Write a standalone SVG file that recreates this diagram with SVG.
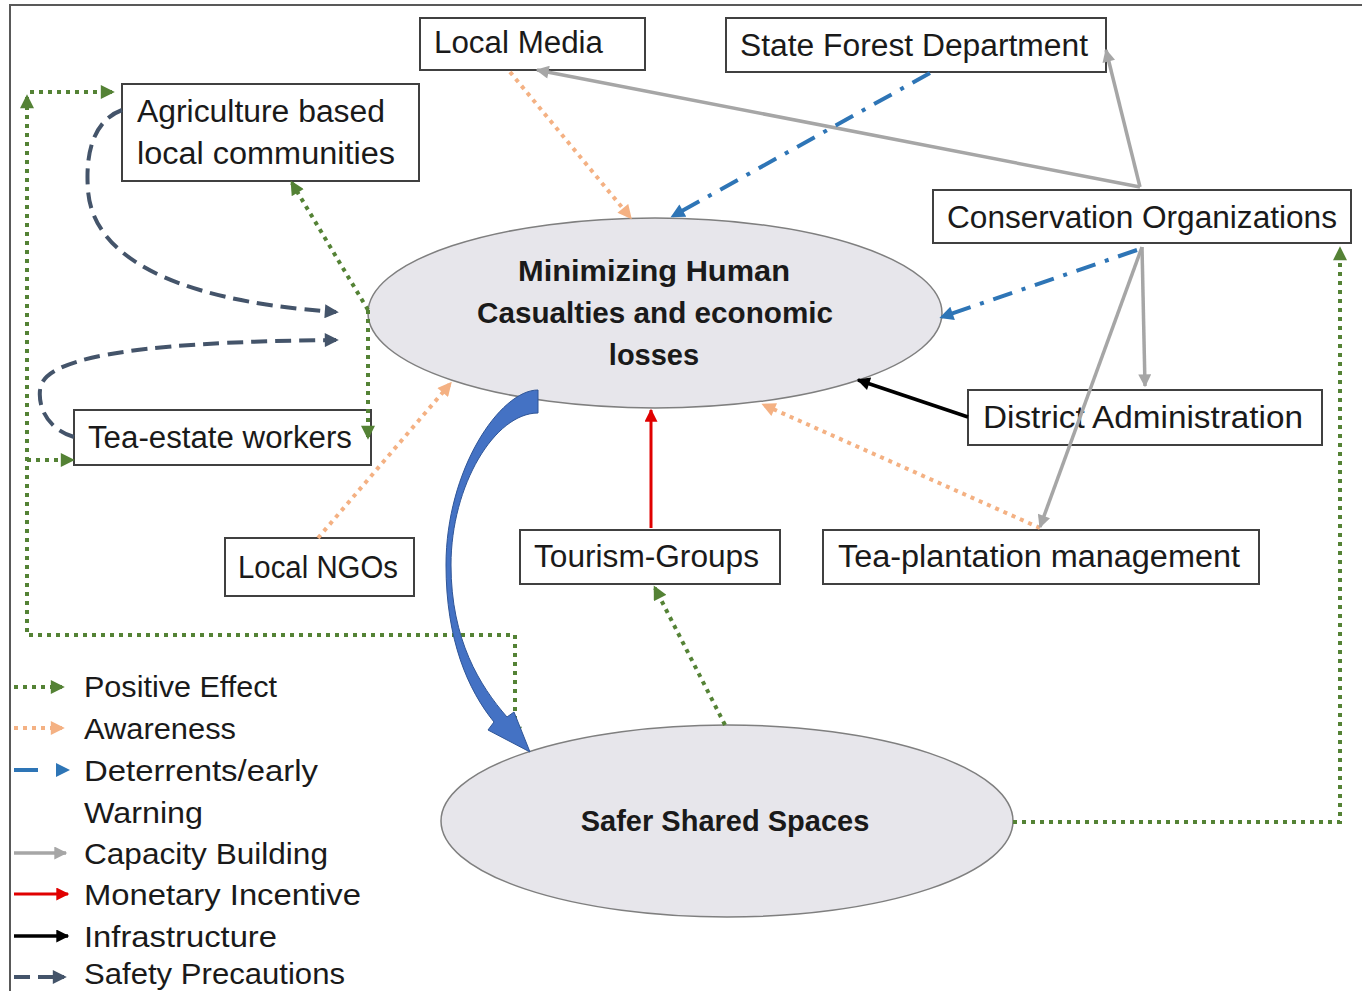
<svg xmlns="http://www.w3.org/2000/svg" width="1362" height="991" viewBox="0 0 1362 991">
<defs>
<style>
.box{fill:#ffffff;stroke:#404040;stroke-width:2}
.ell{fill:#e7e6eb;stroke:#7f7f7f;stroke-width:1.5}
.t{font-family:"Liberation Sans",Arial,sans-serif;font-size:31px;fill:#1a1a1a}
.tb{font-family:"Liberation Sans",Arial,sans-serif;font-size:29px;font-weight:bold;fill:#1a1a1a;text-anchor:middle}
.lg{font-family:"Liberation Sans",Arial,sans-serif;font-size:30px;fill:#1a1a1a}
.pos{fill:none;stroke:#548235;stroke-width:4;stroke-dasharray:4 5}
.awa{fill:none;stroke:#f4b183;stroke-width:4;stroke-dasharray:4 5}
.det{fill:none;stroke:#2e75b6;stroke-width:4;stroke-dasharray:20 10 4 10}
.cap{fill:none;stroke:#a6a6a6;stroke-width:3.5}
.mon{fill:none;stroke:#e00000;stroke-width:3}
.inf{fill:none;stroke:#000000;stroke-width:3.5}
.saf{fill:none;stroke:#44546a;stroke-width:4;stroke-dasharray:16 8}
</style>
<marker id="mG" viewBox="0 0 10 10" refX="8" refY="5" markerWidth="15" markerHeight="14" orient="auto" markerUnits="userSpaceOnUse"><path d="M0,0 L10,5 L0,10 z" fill="#548235"/></marker>
<marker id="mGr" viewBox="0 0 10 10" refX="8" refY="5" markerWidth="15" markerHeight="14" orient="auto-start-reverse" markerUnits="userSpaceOnUse"><path d="M0,0 L10,5 L0,10 z" fill="#548235"/></marker>
<marker id="mO" viewBox="0 0 10 10" refX="8" refY="5" markerWidth="15" markerHeight="14" orient="auto" markerUnits="userSpaceOnUse"><path d="M0,0 L10,5 L0,10 z" fill="#f4b183"/></marker>
<marker id="mB" viewBox="0 0 10 10" refX="8" refY="5" markerWidth="15" markerHeight="14" orient="auto" markerUnits="userSpaceOnUse"><path d="M0,0 L10,5 L0,10 z" fill="#2e75b6"/></marker>
<marker id="mC" viewBox="0 0 10 10" refX="9" refY="5" markerWidth="15" markerHeight="13" orient="auto" markerUnits="userSpaceOnUse"><path d="M0,0 L10,5 L0,10 z" fill="#a6a6a6"/></marker>
<marker id="mR" viewBox="0 0 10 10" refX="9" refY="5" markerWidth="15" markerHeight="13" orient="auto" markerUnits="userSpaceOnUse"><path d="M0,0 L10,5 L0,10 z" fill="#e00000"/></marker>
<marker id="mK" viewBox="0 0 10 10" refX="9" refY="5" markerWidth="15" markerHeight="13" orient="auto" markerUnits="userSpaceOnUse"><path d="M0,0 L10,5 L0,10 z" fill="#000000"/></marker>
<marker id="mS" viewBox="0 0 10 10" refX="8" refY="5" markerWidth="15" markerHeight="14" orient="auto" markerUnits="userSpaceOnUse"><path d="M0,0 L10,5 L0,10 z" fill="#44546a"/></marker>
</defs>
<rect x="0" y="0" width="1362" height="991" fill="#ffffff"/>
<g id="frame" fill="none" stroke="#595959" stroke-width="2">
<path d="M10,991 L10,5 L1362,5"/>
</g>

<g id="node-local-media"><rect class="box" x="420" y="18" width="225" height="52"/><text class="t" x="434" y="53" textLength="169" lengthAdjust="spacingAndGlyphs">Local Media</text></g>
<g id="node-state-forest"><rect class="box" x="726" y="18" width="380" height="54"/><text class="t" x="740" y="56" textLength="348" lengthAdjust="spacingAndGlyphs">State Forest Department</text></g>
<g id="node-agriculture"><rect class="box" x="122" y="84" width="297" height="97"/><text class="t" x="137" y="122" textLength="248" lengthAdjust="spacingAndGlyphs">Agriculture based</text><text class="t" x="137" y="164" textLength="258" lengthAdjust="spacingAndGlyphs">local communities</text></g>
<g id="node-conservation"><rect class="box" x="933" y="190" width="418" height="53"/><text class="t" x="947" y="228" textLength="390" lengthAdjust="spacingAndGlyphs">Conservation Organizations</text></g>
<g id="node-minimizing"><ellipse class="ell" cx="655" cy="313" rx="287" ry="95"/><text class="tb" x="654" y="281" textLength="272" lengthAdjust="spacingAndGlyphs">Minimizing Human</text><text class="tb" x="655" y="323" textLength="356" lengthAdjust="spacingAndGlyphs">Casualties and economic</text><text class="tb" x="654" y="365">losses</text></g>
<g id="node-district"><rect class="box" x="968" y="390" width="354" height="55"/><text class="t" x="983" y="428" textLength="320" lengthAdjust="spacingAndGlyphs">District Administration</text></g>
<g id="node-tea-estate"><rect class="box" x="74" y="410" width="297" height="55"/><text class="t" x="88" y="448" textLength="264" lengthAdjust="spacingAndGlyphs">Tea-estate workers</text></g>
<g id="node-local-ngos"><rect class="box" x="225" y="538" width="189" height="58"/><text class="t" x="238" y="578" textLength="160" lengthAdjust="spacingAndGlyphs">Local NGOs</text></g>
<g id="node-tourism"><rect class="box" x="520" y="530" width="260" height="54"/><text class="t" x="534" y="567" textLength="225" lengthAdjust="spacingAndGlyphs">Tourism-Groups</text></g>
<g id="node-tea-plantation"><rect class="box" x="823" y="530" width="436" height="54"/><text class="t" x="838" y="567" textLength="402" lengthAdjust="spacingAndGlyphs">Tea-plantation management</text></g>
<g id="node-safer"><ellipse class="ell" cx="727" cy="821" rx="286" ry="96"/><text class="tb" x="725" y="831">Safer Shared Spaces</text></g>

<g id="connectors">
<path class="pos" d="M515,738 L515,635 L27,635 L27,97" marker-start="url(#mGr)" marker-end="url(#mG)"/>
<path class="pos" d="M30,92 L112,92" marker-end="url(#mG)"/>
<path class="pos" d="M27,460 L72,460" marker-end="url(#mG)"/>
<path class="pos" d="M368,310 L292,183" marker-end="url(#mG)"/>
<path class="pos" d="M368,310 L368,437" marker-end="url(#mG)"/>
<path class="pos" d="M1013,822 L1340,822 L1340,249" marker-end="url(#mG)"/>
<path class="pos" d="M725,725 L655,588" marker-end="url(#mG)"/>

<path class="saf" d="M122,110 C95,120 85,150 88,190 C92,250 160,300 336,312" marker-end="url(#mS)"/>
<path class="saf" d="M74,437 C50,430 38,410 40,390 C42,360 120,342 336,340" marker-end="url(#mS)"/>

<path class="awa" d="M510,72 L630,217" marker-end="url(#mO)"/>
<path class="awa" d="M318,538 L450,384" marker-end="url(#mO)"/>
<path class="awa" d="M1040,528 L764,405" marker-end="url(#mO)"/>

<path class="cap" d="M1140,187 L537,70" marker-end="url(#mC)"/>
<path class="cap" d="M1140,187 L1106,50" marker-end="url(#mC)"/>
<path class="cap" d="M1142,247 L1145,386" marker-end="url(#mC)"/>
<path class="cap" d="M1142,247 L1040,527" marker-end="url(#mC)"/>

<path class="det" d="M930,73 L673,216" marker-end="url(#mB)"/>
<path class="det" d="M1137,250 L942,317" marker-end="url(#mB)"/>

<path class="mon" d="M651,528 L651,410" marker-end="url(#mR)"/>
<path class="inf" d="M968,417 L858,380" marker-end="url(#mK)"/>

<path d="M538,390 C500,390 446,470 446,565 C446,640 468,690 494,722 L488,730 L530,752 L514,712 L507,717 C480,686 451,640 451,565 C451,485 495,413 538,413 Z" fill="#4472c4" stroke="#2f5597" stroke-width="1"/>
</g>

<g id="legend">
<path class="pos" d="M14,687 L62,687" marker-end="url(#mG)"/>
<path class="awa" d="M14,728 L62,728" marker-end="url(#mO)"/>
<path d="M14,770 L38,770" stroke="#2e75b6" stroke-width="4"/>
<path d="M56,763 L70,770 L56,777 z" fill="#2e75b6"/>
<path class="cap" d="M14,853 L66,853" marker-end="url(#mC)"/>
<path class="mon" d="M14,894 L68,894" marker-end="url(#mR)"/>
<path class="inf" d="M14,936 L68,936" marker-end="url(#mK)"/>
<path class="saf" d="M14,977 L64,977" marker-end="url(#mS)"/>
<text class="lg" x="84" y="697" textLength="193" lengthAdjust="spacingAndGlyphs">Positive Effect</text>
<text class="lg" x="84" y="739" textLength="152" lengthAdjust="spacingAndGlyphs">Awareness</text>
<text class="lg" x="84" y="781" textLength="234" lengthAdjust="spacingAndGlyphs">Deterrents/early</text>
<text class="lg" x="84" y="823" textLength="119" lengthAdjust="spacingAndGlyphs">Warning</text>
<text class="lg" x="84" y="864" textLength="244" lengthAdjust="spacingAndGlyphs">Capacity Building</text>
<text class="lg" x="84" y="905" textLength="277" lengthAdjust="spacingAndGlyphs">Monetary Incentive</text>
<text class="lg" x="84" y="947" textLength="193" lengthAdjust="spacingAndGlyphs">Infrastructure</text>
<text class="lg" x="84" y="984" textLength="261" lengthAdjust="spacingAndGlyphs">Safety Precautions</text>
</g>
</svg>
